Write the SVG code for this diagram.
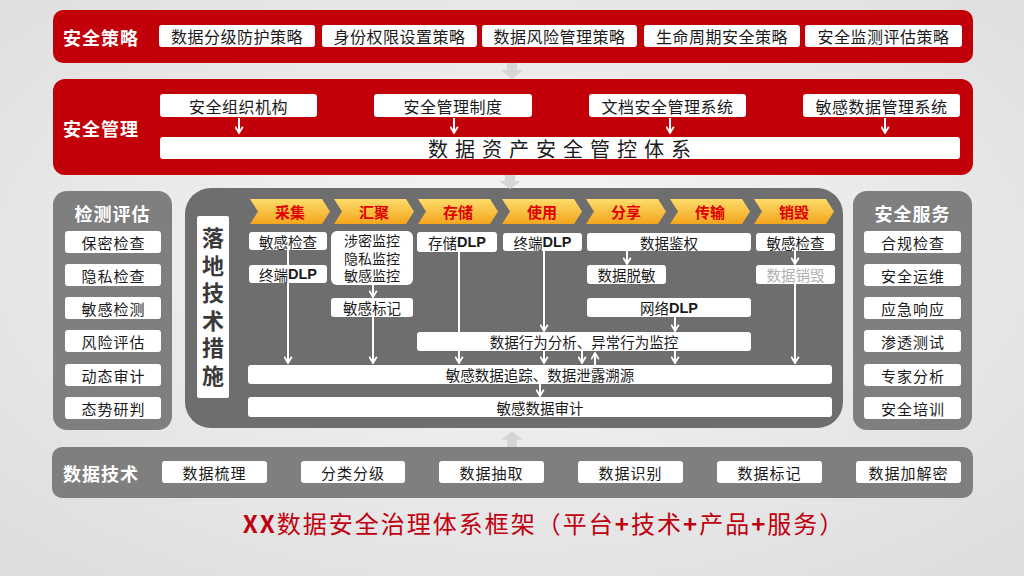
<svg xmlns="http://www.w3.org/2000/svg" width="1024" height="576" viewBox="0 0 1024 576">
<defs>
<radialGradient id="bg" cx="50%" cy="45%" r="70%">
<stop offset="0" stop-color="#f7f7f7"/>
<stop offset="1" stop-color="#dedede"/>
</radialGradient>
<linearGradient id="chev" x1="0" y1="0" x2="0" y2="1">
<stop offset="0" stop-color="#fddc6a"/>
<stop offset="1" stop-color="#f3a51d"/>
</linearGradient>
<marker id="ah" viewBox="0 0 10 10" refX="9" refY="5" markerWidth="9" markerHeight="9" markerUnits="userSpaceOnUse" orient="auto">
<path d="M2,0.8 L9,5 L2,9.2" fill="none" stroke="#ffffff" stroke-width="2"/>
</marker>
<style>
.red{fill:#c2000a}
.gray{fill:#7f7f7f}
.mid{fill:#6e6e6e}
.box{fill:#ffffff}
.t{font-family:"Noto Sans CJK SC","Liberation Sans",sans-serif;fill:#1a1a1a;text-anchor:middle;dominant-baseline:central}
.t16{font-size:16px;letter-spacing:0.5px}
.t15{font-size:15px;letter-spacing:1px}
.t14{font-size:14.5px}
.tight{font-size:14px}
.dlp{font-family:"Liberation Sans",sans-serif;font-weight:bold}
.title{font-family:"Noto Sans CJK SC","Liberation Sans",sans-serif;font-weight:bold;font-size:18px;fill:#ffffff;letter-spacing:1px;dominant-baseline:central}
.ch{font-family:"Noto Sans CJK SC","Liberation Sans",sans-serif;font-weight:bold;font-size:15px;fill:#e00000;text-anchor:middle;dominant-baseline:central}
.vt{font-family:"Noto Sans CJK SC","Liberation Sans",sans-serif;font-weight:bold;font-size:22px;fill:#3a3a3a;writing-mode:tb;glyph-orientation-vertical:0;letter-spacing:5.5px}
.ln{fill:none;stroke:#ffffff;stroke-width:2}
.blk{fill:#d6d6d6}
</style>
</defs>
<rect x="0" y="0" width="1024" height="576" fill="url(#bg)"/>

<g id="panel-policy">
<rect class="red" x="53" y="10" width="920" height="53" rx="10"/>
<text class="title" x="63" y="37">安全策略</text>
<rect class="box" x="159" y="25" width="156" height="22" rx="3"/>
<text class="t t16" x="237" y="36">数据分级防护策略</text>
<rect class="box" x="322" y="25" width="155" height="22" rx="3"/>
<text class="t t16" x="399.5" y="36">身份权限设置策略</text>
<rect class="box" x="482" y="25" width="155" height="22" rx="3"/>
<text class="t t16" x="559.5" y="36">数据风险管理策略</text>
<rect class="box" x="644" y="25" width="156" height="22" rx="3"/>
<text class="t t16" x="722" y="36">生命周期安全策略</text>
<rect class="box" x="805" y="25" width="157" height="22" rx="3"/>
<text class="t t16" x="883.5" y="36">安全监测评估策略</text>
</g>

<g id="panel-management">
<rect class="red" x="53" y="79" width="920" height="96" rx="12"/>
<text class="title" x="63" y="128">安全管理</text>
</g>

<g id="panel-assess">
<rect class="gray" x="53" y="191" width="119" height="239" rx="14"/>
<text class="title" x="112.5" y="213" text-anchor="middle">检测评估</text>
</g>

<g id="panel-tech">
<rect class="mid" x="185" y="188" width="658" height="240" rx="26"/>
</g>

<g id="panel-service">
<rect class="gray" x="853" y="191" width="119" height="239" rx="14"/>
<text class="title" x="912.5" y="213" text-anchor="middle">安全服务</text>
</g>

<g id="panel-datatech">
<rect class="gray" x="52" y="447" width="921" height="51" rx="10"/>
<text class="title" x="63" y="473">数据技术</text>
</g>

<g id="connectors">
<path class="blk" d="M507,63 H517 V70 H523 L512,79 L501,70 H507 Z"/>
<path class="blk" d="M505,175 H515 V181 H521 L510,189 L499,181 H505 Z"/>
<path class="blk" d="M507,447 H517 V440 H523 L512,431 L501,440 H507 Z"/>
<path class="ln" d="M239,118 V133" marker-end="url(#ah)"/>
<path class="ln" d="M454,118 V133" marker-end="url(#ah)"/>
<path class="ln" d="M670,118 V133" marker-end="url(#ah)"/>
<path class="ln" d="M885,118 V133" marker-end="url(#ah)"/>
<path class="ln" d="M288,249 V363" marker-end="url(#ah)"/>
<path class="ln" d="M373,285 V297" marker-end="url(#ah)"/>
<path class="ln" d="M373,317 V363" marker-end="url(#ah)"/>
<path class="ln" d="M459,252 V363" marker-end="url(#ah)"/>
<path class="ln" d="M544,251 V331" marker-end="url(#ah)"/>
<path class="ln" d="M544,351 V363" marker-end="url(#ah)"/>
<path class="ln" d="M627,251 V264" marker-end="url(#ah)"/>
<path class="ln" d="M675,317 V331" marker-end="url(#ah)"/>
<path class="ln" d="M675,351 V363" marker-end="url(#ah)"/>
<path class="ln" d="M582,351 V363" marker-end="url(#ah)"/>
<path class="ln" d="M595,365 V353" marker-end="url(#ah)"/>
<path class="ln" d="M795,251 V264" marker-end="url(#ah)"/>
<path class="ln" d="M795,284 V363" marker-end="url(#ah)"/>
<path class="ln" d="M540,384 V396" marker-end="url(#ah)"/>
</g>

<g id="mgmt-nodes">
<rect class="box" x="160" y="94" width="157" height="23" rx="3"/>
<text class="t t16" x="238.5" y="105.5">安全组织机构</text>
<rect class="box" x="374" y="94" width="158" height="23" rx="3"/>
<text class="t t16" x="453" y="105.5">安全管理制度</text>
<rect class="box" x="589" y="94" width="157" height="23" rx="3"/>
<text class="t t16" x="667.5" y="105.5">文档安全管理系统</text>
<rect class="box" x="803" y="94" width="157" height="23" rx="3"/>
<text class="t t16" x="881.5" y="105.5">敏感数据管理系统</text>
<rect class="box" x="160" y="137" width="800" height="22" rx="3"/>
<text class="t" x="563" y="148" style="font-size:20px;letter-spacing:7px">数据资产安全管控体系</text>
</g>

<g id="assess-nodes">
<rect class="box" x="65" y="231" width="96" height="22" rx="3"/>
<text class="t t15" x="113.5" y="242">保密检查</text>
<rect class="box" x="65" y="264" width="96" height="22" rx="3"/>
<text class="t t15" x="113.5" y="275">隐私检查</text>
<rect class="box" x="65" y="297" width="96" height="22" rx="3"/>
<text class="t t15" x="113.5" y="308">敏感检测</text>
<rect class="box" x="65" y="330" width="96" height="22" rx="3"/>
<text class="t t15" x="113.5" y="341">风险评估</text>
<rect class="box" x="65" y="364" width="96" height="22" rx="3"/>
<text class="t t15" x="113.5" y="375">动态审计</text>
<rect class="box" x="65" y="397" width="96" height="22" rx="3"/>
<text class="t t15" x="113.5" y="408">态势研判</text>
</g>

<g id="service-nodes">
<rect class="box" x="864" y="231" width="97" height="22" rx="3"/>
<text class="t t15" x="913" y="242">合规检查</text>
<rect class="box" x="864" y="264" width="97" height="22" rx="3"/>
<text class="t t15" x="913" y="275">安全运维</text>
<rect class="box" x="864" y="297" width="97" height="22" rx="3"/>
<text class="t t15" x="913" y="308">应急响应</text>
<rect class="box" x="864" y="330" width="97" height="22" rx="3"/>
<text class="t t15" x="913" y="341">渗透测试</text>
<rect class="box" x="864" y="364" width="97" height="22" rx="3"/>
<text class="t t15" x="913" y="375">专家分析</text>
<rect class="box" x="864" y="397" width="97" height="22" rx="3"/>
<text class="t t15" x="913" y="408">安全培训</text>
</g>

<g id="tech-label">
<rect class="box" x="197" y="216" width="32" height="182" rx="2"/>
<text class="vt" x="213" y="227">落地技术措施</text>
</g>

<g id="stages">
<path fill="url(#chev)" d="M250,199 H322 L330,211.5 L322,224 H250 L258,211.5 Z"/>
<text class="ch" x="290" y="211.5">采集</text>
<path fill="url(#chev)" d="M334,199 H406 L414,211.5 L406,224 H334 L342,211.5 Z"/>
<text class="ch" x="374" y="211.5">汇聚</text>
<path fill="url(#chev)" d="M418,199 H490 L498,211.5 L490,224 H418 L426,211.5 Z"/>
<text class="ch" x="458" y="211.5">存储</text>
<path fill="url(#chev)" d="M502,199 H574 L582,211.5 L574,224 H502 L510,211.5 Z"/>
<text class="ch" x="542" y="211.5">使用</text>
<path fill="url(#chev)" d="M586,199 H658 L666,211.5 L658,224 H586 L594,211.5 Z"/>
<text class="ch" x="626" y="211.5">分享</text>
<path fill="url(#chev)" d="M670,199 H742 L750,211.5 L742,224 H670 L678,211.5 Z"/>
<text class="ch" x="710" y="211.5">传输</text>
<path fill="url(#chev)" d="M754,199 H826 L834,211.5 L826,224 H754 L762,211.5 Z"/>
<text class="ch" x="794" y="211.5">销毁</text>
</g>

<g id="tech-nodes">
<rect class="box" x="249" y="232" width="78" height="18" rx="3"/>
<text class="t t14" x="288" y="241">敏感检查</text>
<rect class="box" x="249" y="265" width="78" height="18" rx="3"/>
<text class="t t14" x="288" y="274">终端<tspan class="dlp">DLP</tspan></text>
<rect class="box" x="331" y="231" width="82" height="54" rx="6"/>
<text class="t tight" x="372" y="241" style="font-family:'Liberation Sans','Noto Sans CJK SC',sans-serif">涉密监控</text>
<text class="t tight" x="372" y="258.5" style="font-family:'Liberation Sans','Noto Sans CJK SC',sans-serif">隐私监控</text>
<text class="t tight" x="372" y="276" style="font-family:'Liberation Sans','Noto Sans CJK SC',sans-serif">敏感监控</text>
<rect class="box" x="331" y="298" width="82" height="19" rx="3"/>
<text class="t t14" x="372" y="307.5">敏感标记</text>
<rect class="box" x="417" y="232" width="80" height="20" rx="3"/>
<text class="t t14" x="457" y="242">存储<tspan class="dlp">DLP</tspan></text>
<rect class="box" x="503" y="233" width="79" height="18" rx="3"/>
<text class="t t14" x="542.5" y="242">终端<tspan class="dlp">DLP</tspan></text>
<rect class="box" x="587" y="233" width="164" height="18" rx="3"/>
<text class="t t14" x="669" y="242">数据鉴权</text>
<rect class="box" x="587" y="265" width="79" height="19" rx="3"/>
<text class="t t14" x="626.5" y="274.5">数据脱敏</text>
<rect class="box" x="587" y="298" width="164" height="19" rx="3"/>
<text class="t t14" x="669" y="307.5">网络<tspan class="dlp">DLP</tspan></text>
<rect class="box" x="756" y="233" width="79" height="18" rx="3"/>
<text class="t t14" x="795.5" y="242">敏感检查</text>
<rect class="box" x="756" y="265" width="79" height="19" rx="3"/>
<text class="t t14" x="795.5" y="274.5" style="fill:#b0b0b0">数据销毁</text>
<rect class="box" x="417" y="332" width="334" height="19" rx="3"/>
<text class="t t14" x="584" y="341.5">数据行为分析、异常行为监控</text>
<rect class="box" x="248" y="365" width="584" height="19" rx="3"/>
<text class="t t14" x="540" y="374.5">敏感数据追踪、数据泄露溯源</text>
<rect class="box" x="248" y="397" width="584" height="20" rx="3"/>
<text class="t t14" x="540" y="407">敏感数据审计</text>
</g>

<g id="datatech-nodes">
<rect class="box" x="162" y="461" width="105" height="22" rx="3"/>
<text class="t t15" x="214.5" y="472">数据梳理</text>
<rect class="box" x="301" y="461" width="104" height="22" rx="3"/>
<text class="t t15" x="353" y="472">分类分级</text>
<rect class="box" x="439" y="461" width="105" height="22" rx="3"/>
<text class="t t15" x="491.5" y="472">数据抽取</text>
<rect class="box" x="578" y="461" width="105" height="22" rx="3"/>
<text class="t t15" x="630.5" y="472">数据识别</text>
<rect class="box" x="717" y="461" width="105" height="22" rx="3"/>
<text class="t t15" x="769.5" y="472">数据标记</text>
<rect class="box" x="856" y="461" width="105" height="22" rx="3"/>
<text class="t t15" x="908.5" y="472">数据加解密</text>
</g>

<g id="caption">
<text x="544" y="522" style="font-family:'Noto Sans CJK SC','Liberation Sans',sans-serif;font-size:24px;fill:#c00010;text-anchor:middle;dominant-baseline:central;letter-spacing:2px"><tspan font-weight="bold">XX</tspan>数据安全治理体系框架（平台<tspan font-weight="bold">+</tspan>技术<tspan font-weight="bold">+</tspan>产品<tspan font-weight="bold">+</tspan>服务）</text>
</g>
</svg>
